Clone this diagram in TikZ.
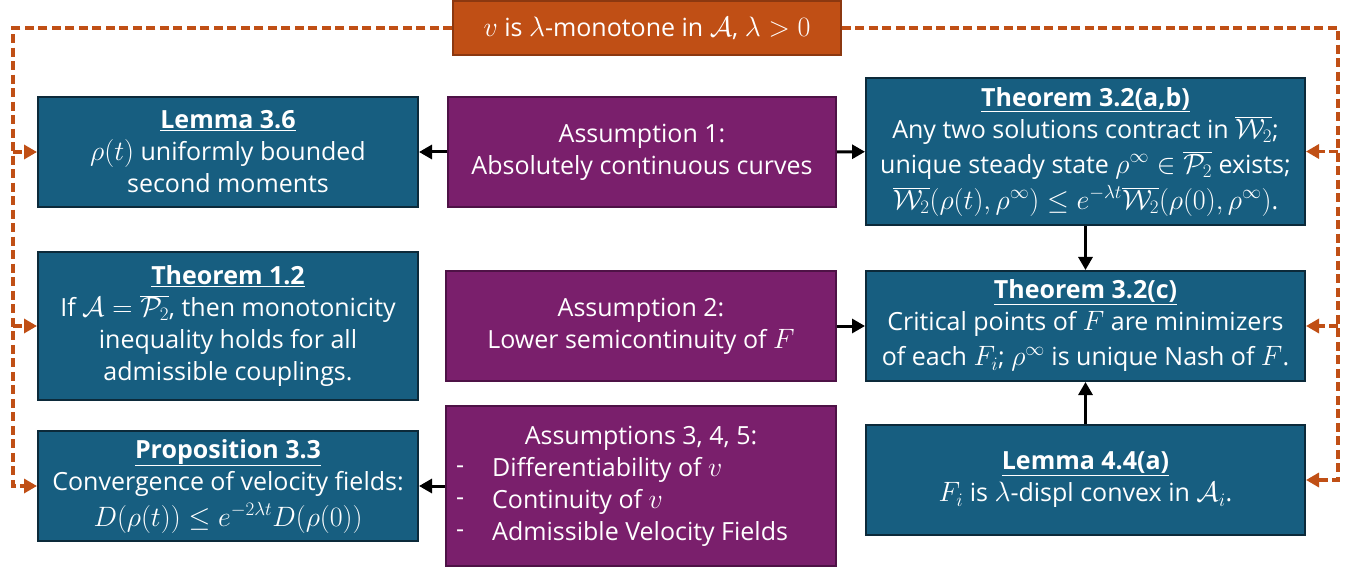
\RequirePackage{fix-cm}
\documentclass[tikz,border=0pt]{standalone}
\usepackage{fontspec}
\setmainfont{Open Sans}
\DeclareMathSizes{25}{28}{19}{15}
\usetikzlibrary{arrows.meta,calc}
\definecolor{tealf}{RGB}{23,94,128}
\definecolor{teald}{RGB}{12,42,58}
\definecolor{purpf}{RGB}{122,31,108}
\definecolor{purpd}{RGB}{78,18,70}
\definecolor{orgf}{RGB}{192,79,21}
\definecolor{orgd}{RGB}{140,56,16}
\newcommand{\ttl}[1]{\underline{\textbf{#1}}}
\begin{document}
\begin{tikzpicture}[x=1pt,y=-1pt,
  txt/.style={text=white,font=\fontsize{25}{32}\selectfont,align=center,inner sep=0pt},
  tbox/.style={txt,draw=teald,fill=tealf,line width=2pt},
  pbox/.style={txt,draw=purpd,fill=purpf,line width=1.5pt},
  obox/.style={txt,draw=orgd,fill=orgf,line width=1.5pt},
  conn/.style={line width=3pt,-{Triangle[length=13pt,width=14pt]}},
  dsh/.style={draw=orgf,line width=3.4pt,dash pattern=on 9pt off 4.5pt,-{Triangle[length=13pt,width=14pt]}}
]
\useasboundingbox (0,0) rectangle (1357,569);
% top
\node[obox,minimum width=388pt,minimum height=54pt] (top) at (647,28) {$v$ is $\lambda$-monotone in $\mathcal{A}$, $\lambda>0$};
% left column
\node[tbox,minimum width=380pt,minimum height=110pt] (l36) at (228,152)
  {\ttl{Lemma 3.6}\\ $\rho(t)$ uniformly bounded\\ second moments};
\node[tbox,minimum width=380pt,minimum height=148pt] (t12) at (228,326)
  {\ttl{Theorem 1.2}\\ If $\mathcal{A}=\overline{\mathcal{P}_2}$, then monotonicity\\ inequality holds for all\\ admissible couplings.};
\node[tbox,minimum width=380pt,minimum height=110pt] (p33) at (228,486)
  {\ttl{Proposition 3.3}\\ Convergence of velocity fields:\\[4pt] $D\big(\rho(t)\big)\le e^{-2\lambda t}D(\rho(0))$};
% middle column
\node[pbox,minimum width=388pt,minimum height=110pt] (a1) at (642,152)
  {Assumption 1:\\ Absolutely continuous curves};
\node[pbox,minimum width=390pt,minimum height=110pt] (a2) at (641,326)
  {Assumption 2:\\ Lower semicontinuity of $F$};
\node[pbox,minimum width=390pt,minimum height=160pt] (a3) at (641,486) {};
\node[txt] (a3h) at (641,438) {Assumptions 3, 4, 5:};
\node[txt,anchor=west] (a3i) at (456,470) {-};
\node[txt,anchor=west] (a3ii) at (456,502) {-};
\node[txt,anchor=west] (a3iii) at (456,534) {-};
\node[txt,anchor=west] (a3a) at (492,470) {Differentiability of $v$};
\node[txt,anchor=west] (a3b) at (492,502) {Continuity of $v$};
\node[txt,anchor=west] (a3c) at (492,534) {Admissible Velocity Fields};
% right column
\node[tbox,minimum width=439pt,minimum height=147pt] (tab) at (1085.5,151.5)
  {\ttl{Theorem 3.2(a,b)}\\ Any two solutions contract in $\overline{\mathcal{W}_2}$;\\[3pt] unique steady state $\rho^\infty\in\overline{\mathcal{P}_2}$ exists;\\[4pt] $\overline{\mathcal{W}_2}(\rho(t),\rho^\infty)\le e^{-\lambda t}\overline{\mathcal{W}_2}(\rho(0),\rho^\infty)$.};
\node[tbox,minimum width=439pt,minimum height=110pt] (tc) at (1085.5,326)
  {\ttl{Theorem 3.2(c)}\\ Critical points of $F$ are minimizers\\[3pt] of each $F_i$; $\rho^\infty$ is unique Nash of $F$.};
\node[tbox,minimum width=439pt,minimum height=110pt] (l44) at (1085.5,480)
  {\ttl{Lemma 4.4(a)}\\ $F_i$ is $\lambda$-displ convex in $\mathcal{A}_i$.};
% solid connectors
\draw[conn] (a1) -- (l36);
\draw[conn] (a1) -- (tab);
\draw[conn] (tab) -- (tc);
\draw[conn] (l44) -- (tc);
\draw[conn] (a2.east) -- (a2.east -| tc.west);
\draw[conn] (a3.west |- p33.east) -- (p33.east);
% dashed connectors
\coordinate (lb) at (13,486);
\coordinate (rb) at (1338,480);
\draw[dsh] (top.west) -| (lb) -- (p33.west);
\draw[dsh] (l36.west -| lb) -- (l36.west);
\draw[dsh] (t12.west -| lb) -- (t12.west);
\draw[dsh] (top.east) -| (rb) -- (l44.east);
\draw[dsh] (tab.east -| rb) -- (tab.east);
\draw[dsh] (tc.east -| rb) -- (tc.east);
\end{tikzpicture}
\end{document}
